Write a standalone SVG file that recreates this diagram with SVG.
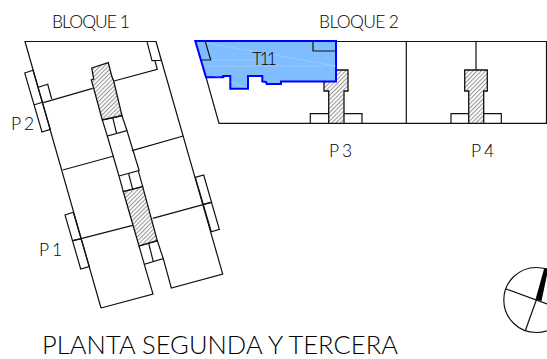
<svg xmlns="http://www.w3.org/2000/svg" width="547" height="359" viewBox="0 0 547 359">
<defs>
<pattern id="hatch" width="3" height="3" patternUnits="userSpaceOnUse" patternTransform="rotate(-45)">
<rect width="3" height="3" fill="#ffffff"/><rect width="3" height="1.1" fill="#9a9a9a"/>
</pattern>
</defs>
<style>
.l{fill:none;stroke:#111;stroke-width:1.2;stroke-linejoin:miter}
.h{fill:url(#hatch);stroke:#111;stroke-width:1.3}
.t{font-family:"Lato","Liberation Sans",sans-serif;font-weight:300;fill:#000;font-size:17.5px}
.p{word-spacing:-1.5px}
</style>
<rect width="547" height="359" fill="#ffffff"/>
<g id="bloque-1">
<path class="l" d="M101,308L25,41.5H156L161.3,60.3L152,60.7L147,41.7M156,41.5L222.7,274L171.3,288L163.3,258.7M144.3,264.3L153,294L101,308"/>
<path class="l" d="M43.3,102.7L92.7,88.3M114,81L157.3,69.3L155,61M62.7,170L114,156M132,150.7L183.3,136M73.3,240.7L132.7,225.3M152.7,218.3L211.3,202.3"/>
<path class="l" d="M107.3,136L119,176M127,130.7L139.3,171"/>
<path class="l" d="M24.7,73L33,70.3L50.3,129.3L42,132ZM33.7,105L43.3,102M38.3,87.3L47.7,84.3L51.7,99"/>
<path class="l" d="M65,215L73.3,212.3L89.3,266.7L80.7,269ZM72.7,240.7L81.7,238.5"/>
<path class="l" d="M195.3,177.3L203.7,175L219.3,229.3L211.3,231.7ZM203.3,204.3L211.3,202.3"/>
<path class="h" d="M91.7,68L108.3,62.7L111.7,76L113.7,81L122,115.7L102.3,120L93.7,88.3L91.3,80L93.7,79Z"/>
<path class="l" d="M102.3,120L122,115.7L127,130.7L107.3,136ZM112.7,117.3L116.7,134"/>
<path class="l" d="M119,176L138.3,170.7L142.7,186.7L123.3,191.7ZM128.7,174L132.7,189.3"/>
<path class="h" d="M123.3,191.7L142.7,186.7L157.3,240.7L139,246Z"/>
<path class="l" d="M139,246L157.3,240.7L163.3,258.7L144.3,264.3ZM148.7,243.3L153.3,261.7"/>
</g>
<g id="bloque-2">
<path class="l" d="M196,41.5H546.5V123.3H219L196,41.5M406.3,41.5V123.3M476,41.5V70"/>
<path class="l" d="M310.3,123.3V113.7H362V123.3M451,123.3V113.7H501.3V123.3"/>
<path class="h" d="M324,70H348V91H344V123.3H328.7V91H324Z"/>
<path class="h" d="M464.7,70H487.3V91H483.7V123.3H468.7V91H464.7Z"/>
</g>
<g id="t11">
<path d="M195.3,41H336V81.5H281V84H266.7L266,82L262.3,81.5V76H248V88.7H230.3V76H223.3V77.3H206Z" fill="#80bdff" stroke="#0000ff" stroke-width="2"/>
<path d="M207,43L336,66M205,66H336M215,76L246,88M205,60H262" fill="none" stroke="#ffffff" stroke-opacity=".2" stroke-width="1"/>
<path class="l" d="M205.3,41.7L210.7,60H202M313,41.7V51H336"/>
</g>
<g id="compass">
<circle cx="536.3" cy="300" r="32.5" class="l"/>
<path class="l" d="M506,289L547,304M536.3,300L525.3,330.7"/>
<path d="M535.5,299.5L541.5,301L548,270V268L544,269Z" fill="#000"/>
</g>
<g id="labels">
<text class="t" x="52" y="28" textLength="78">BLOQUE 1</text>
<text class="t" x="319" y="28" textLength="80">BLOQUE 2</text>
<text class="t p" x="11" y="130">P 2</text>
<text class="t p" x="39" y="256">P 1</text>
<text class="t p" x="329" y="157">P 3</text>
<text class="t p" x="471" y="157">P 4</text>
<text class="t" x="252" y="64.5" textLength="25">T11</text>
<text class="t" x="42" y="354" textLength="356" style="font-size:25.5px">PLANTA SEGUNDA Y TERCERA</text>
</g>
</svg>
